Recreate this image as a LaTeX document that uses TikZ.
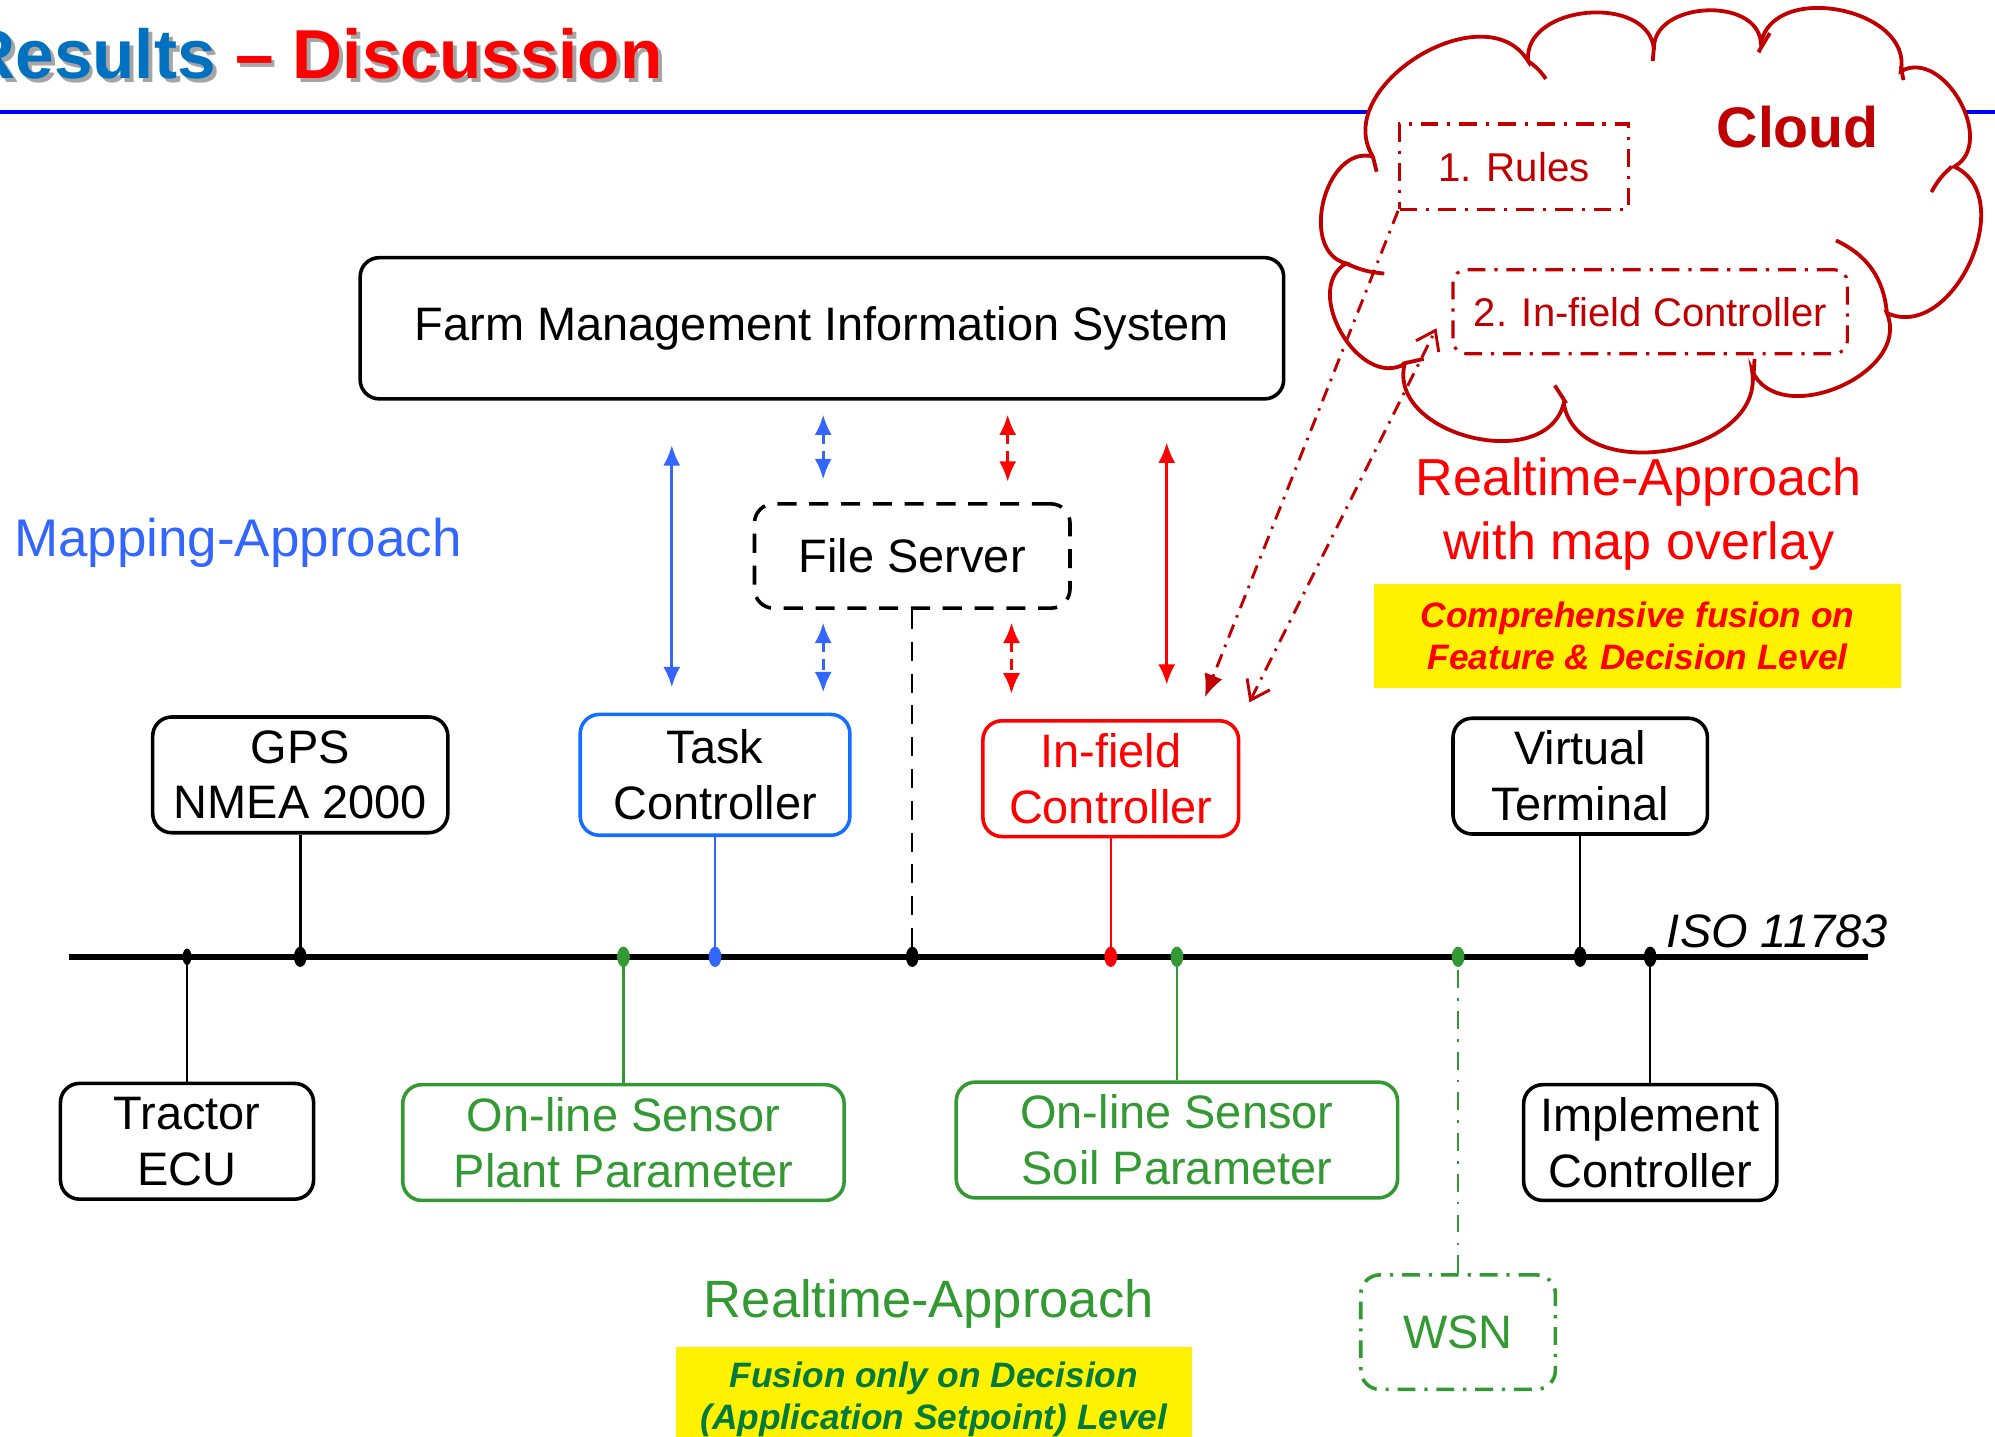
\documentclass[tikz,border=0pt]{standalone}
\usepackage{fontspec}
\setmainfont{Liberation Sans}
\usetikzlibrary{arrows.meta,positioning}
\definecolor{tblue}{RGB}{0,112,192}
\definecolor{mapblue}{RGB}{51,102,255}
\definecolor{tcblue}{RGB}{20,110,255}
\definecolor{sgreen}{RGB}{51,153,51}
\definecolor{dgreen}{RGB}{0,122,61}
\definecolor{cred}{RGB}{192,0,0}
\definecolor{shadowgray}{RGB}{165,165,165}

\begin{document}
\begin{tikzpicture}[x=0.02cm,y=-0.02cm,
    box/.style={draw,line width=1.6pt,rounded corners=0.3cm,align=center,inner sep=0pt,
      minimum height=1.82cm,font=\fontsize{21}{25}\selectfont},
    title/.style={font=\fontsize{31}{36}\selectfont\bfseries,anchor=base east},
    puff/.style={bend left=90,looseness=1.15},
    dashdot/.style={dash pattern=on 0.28cm off 0.14cm on 0.05cm off 0.14cm},
    arr/.style={line width=1.3pt,{Latex[length=0.32cm,width=0.27cm]}-{Latex[length=0.32cm,width=0.27cm]}},
    darr/.style={arr,dash pattern=on 0.16cm off 0.12cm},
    ddarr/.style={line width=1.3pt,cred,dash pattern=on 0.22cm off 0.12cm on 0.04cm off 0.12cm}]
   \clip (0,0) rectangle (1568,1129);

   \node[title,text=shadowgray] (tsh) at (530,65) {Results -- Discussion};
   \node[title] (tit) at (527,62) {\textcolor{tblue}{Results} \textcolor{red}{-- Discussion}};
   \draw[blue,line width=1.4pt] (0,88) -- (1568,88);

   \draw[cred,line width=1.7pt,fill=white] (1079,123) to[puff] (1201,48) to[puff] (1300,39)
     to[puff] (1384,34) to[puff] (1494,56) to[puff] (1536,131) to[puff] (1483,246)
     to[puff] (1377,291) to[puff] (1229,317) to[puff] (1104,286) to[puff] (1058,207)
     to[puff] (1079,123);
   \draw[cred,line width=1.7pt] (1079,123) -- (1082,135)  (1201,48) to[bend left=10] (1215,62)
     (1300,36) -- (1299,48)  (1391,26) -- (1382,41)  (1494,52) -- (1496,63)
     (1534,131) to[bend right=10] (1518,151)  (1443,189) to[bend left=30] (1483,246)
     (1378,299) -- (1379,282)  (1222,303) -- (1231,317)  (1102,286) -- (1119,282)
     (1058,207) to[bend right=10] (1088,215);
   \node[text=cred,font=\fontsize{25.6}{30}\selectfont\bfseries] (ctext) at (1413,100) {Cloud};
   \node[draw=cred,line width=1.4pt,dashdot,text=cred,minimum width=3.6cm,minimum height=1.34cm,
     font=\fontsize{18}{22}\selectfont] (rules) at (1190,131) {1. Rules};
   \node[draw=cred,line width=1.4pt,dashdot,rounded corners=0.2cm,text=cred,minimum width=6.2cm,
     minimum height=1.32cm,font=\fontsize{17.9}{21}\selectfont] (cifc) at (1297,245) {2. In-field Controller};

   \node[box,minimum width=14.52cm,minimum height=2.22cm] (fmis) at (646,258) {Farm Management Information System};
   \node[box,dash pattern=on 0.3cm off 0.2cm,minimum width=4.96cm,minimum height=1.64cm] (fs) at (717,437) {File Server};
   \node[box,minimum width=4.64cm] (gps) at (236,609) {GPS\\NMEA 2000};
   \node[box,draw=tcblue,minimum width=4.24cm,minimum height=1.9cm] (tc) at (562,609) {Task\\Controller};
   \node[box,draw=red,text=red,minimum width=4.02cm] (ifc) at (873,612) {In-field\\Controller};
   \node[box,minimum width=4cm] (vt) at (1242,610) {Virtual\\Terminal};
   \node[box,minimum width=3.98cm] (ecu) at (147,897) {Tractor\\ECU};
   \node[box,draw=sgreen,text=sgreen,minimum width=6.94cm] (plant) at (490,898) {On-line Sensor\\Plant Parameter};
   \node[box,draw=sgreen,text=sgreen,minimum width=6.94cm] (soil) at (925,896) {On-line Sensor\\Soil Parameter};
   \node[box,minimum width=3.98cm] (impl) at (1297,898) {Implement\\Controller};
   \node[box,draw=sgreen,text=sgreen,dashdot,minimum width=3.06cm,minimum height=1.8cm] (wsn) at (1146,1047) {WSN};

   \node[text=mapblue,font=\fontsize{23.7}{28}\selectfont] (map) at (187,427) {Mapping-Approach};
   \node[text=red,align=center,font=\fontsize{23.3}{28.5}\selectfont] (rtm) at (1288,404) {Realtime-Approach\\with map overlay};
   \node[fill=yellow,text=red,align=center,minimum width=8.3cm,minimum height=1.64cm,
     font=\fontsize{15.8}{18.8}\selectfont\bfseries\itshape] (cf) at (1287,500) {Comprehensive fusion on\\Feature \& Decision Level};
   \node[fill=yellow,text=dgreen,align=center,minimum width=8.12cm,minimum height=1.64cm,
     font=\fontsize{15.8}{18.8}\selectfont\bfseries\itshape] (fd) at (734,1100) {Fusion only on Decision\\(Application Setpoint) Level};
   \node[text=sgreen,font=\fontsize{23.5}{28}\selectfont] (rta) at (730,1025) {Realtime-Approach};
   \node[font=\fontsize{21}{25}\selectfont\itshape] (iso) at (1397,732) {ISO 11783};

   \coordinate (busL) at (54,752);
   \coordinate (busR) at (1468,752);
   \draw[line width=2.8pt] (busL) -- (busR);

   \draw[line width=1.1pt] (ecu) -- (ecu |- busL);
   \draw[line width=1.1pt] (gps) -- (gps |- busL);
   \draw[sgreen,line width=1.1pt] (plant) -- (plant |- busL);
   \draw[mapblue,line width=1.1pt] (tc) -- (tc |- busL);
   \draw[line width=1.1pt,dash pattern=on 0.3cm off 0.2cm] (fs) -- (fs |- busL);
   \draw[red,line width=1.1pt] (ifc) -- (ifc |- busL);
   \draw[sgreen,line width=1.1pt] (soil) -- (soil |- busL);
   \draw[sgreen,line width=1.1pt,dash pattern=on 0.28cm off 0.16cm on 0.04cm off 0.16cm] (wsn) -- (wsn |- busL);
   \draw[line width=1.1pt] (vt) -- (vt |- busL);
   \draw[line width=1.1pt] (impl) -- (impl |- busL);

   \fill (ecu |- busL) ellipse [x radius=0.07cm,y radius=0.13cm];
   \fill (gps |- busL) ellipse [x radius=0.1cm,y radius=0.16cm];
   \fill[sgreen] (plant |- busL) ellipse [x radius=0.1cm,y radius=0.16cm];
   \fill[mapblue] (tc |- busL) ellipse [x radius=0.1cm,y radius=0.16cm];
   \fill (fs |- busL) ellipse [x radius=0.1cm,y radius=0.16cm];
   \fill[red] (ifc |- busL) ellipse [x radius=0.1cm,y radius=0.16cm];
   \fill[sgreen] (soil |- busL) ellipse [x radius=0.1cm,y radius=0.16cm];
   \fill[sgreen] (wsn |- busL) ellipse [x radius=0.1cm,y radius=0.16cm];
   \fill (vt |- busL) ellipse [x radius=0.1cm,y radius=0.16cm];
   \fill (impl |- busL) ellipse [x radius=0.1cm,y radius=0.16cm];

   \coordinate (ab) at (528,0);
   \coordinate (ad) at (647,0);
   \coordinate (rd1) at (792,0);
   \coordinate (rd2) at (795,0);
   \coordinate (ar) at (917,0);
   \draw[arr,mapblue,shorten <=0.7cm,shorten >=0.4cm] (fmis.south -| ab) -- (tc.north -| ab);
   \draw[darr,mapblue,shorten <=0.22cm,shorten >=0.36cm] (fmis.south -| ad) -- (fs.north -| ad);
   \draw[darr,mapblue,shorten <=0.2cm,shorten >=0.32cm] (fs.south -| ad) -- (tc.north -| ad);
   \draw[darr,red,shorten <=0.22cm,shorten >=0.32cm] (fmis.south -| rd1) -- (fs.north -| rd1);
   \draw[darr,red,shorten <=0.2cm,shorten >=0.4cm] (fs.south -| rd2) -- (ifc.north -| rd2);
   \draw[arr,red,shorten <=0.66cm,shorten >=0.54cm] (fmis.south -| ar) -- (ifc.north -| ar);

   \coordinate (r1) at (947,548);
   \coordinate (r2) at (982,552);
   \coordinate (c2) at (1129,258);
   \draw[ddarr,-{Latex[length=0.36cm,width=0.3cm]}] (rules.south west) -- (r1);
   \draw[ddarr,{Straight Barb[length=0.28cm,width=0.4cm]}-{Straight Barb[length=0.28cm,width=0.4cm]}] (r2) -- (c2);
\end{tikzpicture}
\end{document}
